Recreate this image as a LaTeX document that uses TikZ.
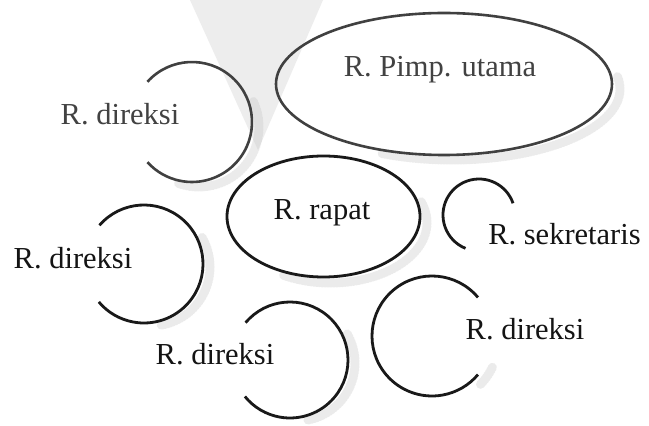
\documentclass[tikz,border=0pt]{standalone}
\usepackage{fontspec}
\setmainfont{Liberation Serif}
\begin{document}
\begin{tikzpicture}[x=1pt,y=1pt,
  room/.style={line width=2.8pt,draw=black!90},
  roomgray/.style={line width=2.6pt,draw=black!75},
  haze/.style={line width=9pt,draw=black!25,opacity=0.3,line cap=round,
    dash pattern=on 1.2pt off 1.6pt},
  label/.style={anchor=base,inner sep=0pt,font=\fontsize{30.5}{36}\selectfont,text=black!92},
  labelgray/.style={label,text=black!74}]
\useasboundingbox (0,0) rectangle (649,426);
\fill[white] (0,0) rectangle (649,426);
% faint wedge behind the top of the plan
\fill[black!7] (190,426) -- (323,426) -- (258,276) -- cycle;

% soft stippled shading on the lower right of each room outline
\draw[haze] ([shift={(8,-5)}]444,342) ++(10:168 and 71) arc[start angle=10,end angle=-115,x radius=168,y radius=71];
\draw[haze] ([shift={(7,-5)}]192,304) ++(25:60) arc[start angle=25,end angle=-110,radius=60];
\draw[haze] ([shift={(7,-6)}]323.5,209.5) ++(20:96.5 and 60.5) arc[start angle=20,end angle=-120,x radius=96.5,y radius=60.5];
\draw[haze] ([shift={(7,-3)}]144,162) ++(30:59) arc[start angle=30,end angle=-80,radius=59];
\draw[haze] ([shift={(7,-3)}]290,66) ++(30:58) arc[start angle=30,end angle=-80,radius=58];
\draw[haze] ([shift={(6,-6)}]432,90) ++(-25:60) arc[start angle=-25,end angle=-45,radius=60];

% room outlines
\draw[roomgray] (444,342) ellipse[x radius=168,y radius=71];
\draw[roomgray] (192,304) ++(138:60) arc[start angle=138,end angle=-138,radius=60];
\draw[room] (323.5,209.5) ellipse[x radius=96.5,y radius=60.5];
\draw[room] (479,211) ++(19:36) arc[start angle=19,end angle=248,radius=36];
\draw[room] (144,162) ++(139:59) arc[start angle=139,end angle=-140,radius=59];
\draw[room] (290,66) ++(140:58) arc[start angle=140,end angle=-141,radius=58];
\draw[room] (432,90) ++(40:60) arc[start angle=40,end angle=320,radius=60];

% room names
\node[labelgray] (direksiA) at (120,301) {R. direksi};
\node[labelgray] (pimpinan) at (440,349) {R. Pimp. utama};
\node[label] (rapat) at (322,206) {R. rapat};
\node[label] (sekretaris) at (564.5,181) {R. sekretaris};
\node[label] (direksiB) at (73,157) {R. direksi};
\node[label] (direksiC) at (215,61) {R. direksi};
\node[label] (direksiD) at (525,86) {R. direksi};
\end{tikzpicture}
\end{document}
